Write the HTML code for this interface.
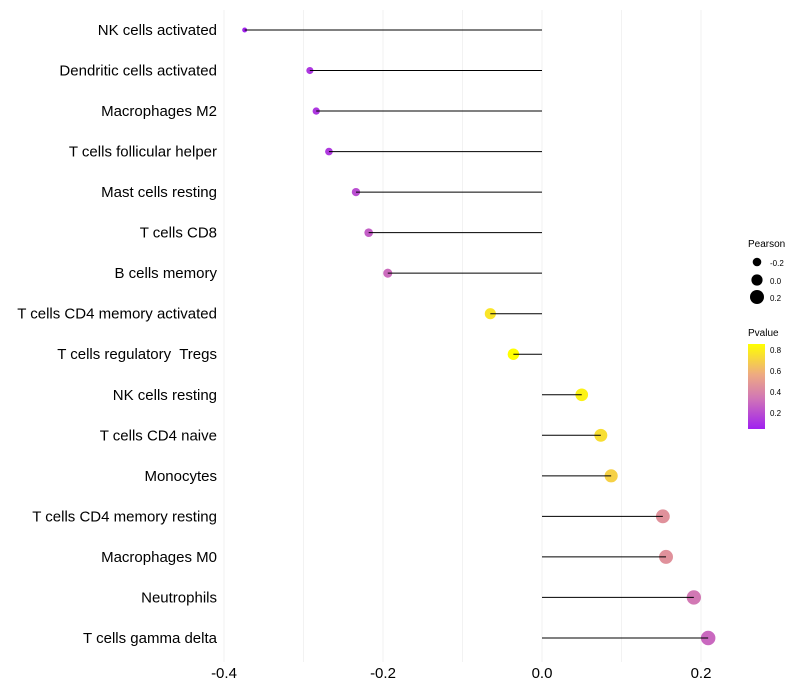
<!DOCTYPE html>
<html><head><meta charset="utf-8"><style>
body{margin:0;background:#fff;}
svg{display:block;font-family:"Liberation Sans",Arial,sans-serif;}
text{white-space:pre;}
</style></head><body>
<svg id="chart" width="800" height="700">
<defs><linearGradient id="pgrad" x1="0" y1="1" x2="0" y2="0">
<stop offset="0" stop-color="#a020f0"/><stop offset="0.37" stop-color="#d278b4"/>
<stop offset="0.64" stop-color="#eeaa82"/><stop offset="1" stop-color="#ffff00"/></linearGradient></defs>
<g id="grid"></g>
<g id="labels"></g>
<g id="marks"></g>
<g id="xticks"></g>
<g>
<text x="748" y="247" font-size="10">Pearson</text>
<circle cx="757" cy="262" r="4.3" fill="#000"/>
<text x="770" y="266" font-size="8">-0.2</text>
<circle cx="757" cy="280" r="5.6" fill="#000"/>
<text x="770" y="284" font-size="8">0.0</text>
<circle cx="757" cy="297" r="7" fill="#000"/>
<text x="770" y="301" font-size="8">0.2</text>
</g>
<g>
<text x="748" y="336" font-size="10">Pvalue</text>
<rect x="748" y="344" width="17" height="85" fill="url(#pgrad)"/>
<text x="770" y="353" font-size="8">0.8</text>
<text x="770" y="374" font-size="8">0.6</text>
<text x="770" y="395" font-size="8">0.4</text>
<text x="770" y="416" font-size="8">0.2</text>
</g>
</svg>
<script>
const categories=["NK cells activated","Dendritic cells activated","Macrophages M2","T cells follicular helper","Mast cells resting","T cells CD8","B cells memory","T cells CD4 memory activated","T cells regulatory  Tregs","NK cells resting","T cells CD4 naive","Monocytes","T cells CD4 memory resting","Macrophages M0","Neutrophils","T cells gamma delta"];
const pearson=[-0.374,-0.292,-0.284,-0.268,-0.234,-0.218,-0.194,-0.065,-0.036,0.050,0.074,0.087,0.152,0.156,0.191,0.209];
const pvalues=[0.14,0.2,0.2,0.21,0.27,0.32,0.36,0.78,0.86,0.82,0.76,0.72,0.5,0.5,0.4,0.35];
const xTicks=[-0.4,-0.2,0.0,0.2];
const xMinor=[-0.3,-0.1,0.1];
const NS="http://www.w3.org/2000/svg";
const xs=v=>542+v*795;
const ys=i=>30+i*40.53;
const rs=v=>Math.sqrt(Math.max(2.2,36+80*v));
function col(p){
  const st=[[0.13,[160,32,240]],[0.4,[210,120,180]],[0.6,[238,170,130]],[0.86,[255,255,0]]];
  if(p<=st[0][0])return 'rgb('+st[0][1]+')';
  for(let k=1;k<st.length;k++){if(p<=st[k][0]){const t=(p-st[k-1][0])/(st[k][0]-st[k-1][0]);
    return 'rgb('+st[k][1].map((c,j)=>Math.round(st[k-1][1][j]+t*(c-st[k-1][1][j]))).join(',')+')';}}
  return 'rgb(255,255,0)';
}
function mk(tag,attrs,parent){const e=document.createElementNS(NS,tag);for(const k in attrs)e.setAttribute(k,attrs[k]);parent.appendChild(e);return e;}
const grid=document.getElementById('grid'),lab=document.getElementById('labels'),marks=document.getElementById('marks'),xt=document.getElementById('xticks');
xTicks.concat(xMinor).forEach(v=>{
  const l=mk('line',{x1:xs(v),x2:xs(v),y1:10,y2:662,stroke:'#f2f2f2','stroke-width':1},grid);
  
  
});
xTicks.forEach(v=>{
  const t=mk('text',{x:xs(v),y:678,'font-size':15,'text-anchor':'middle',fill:'#000'},xt);
  t.textContent=v.toFixed(1);
  
  
});
categories.forEach((c,i)=>{
  const t=mk('text',{x:217,y:ys(i)+5,'font-size':15,'text-anchor':'end',fill:'#000'},lab);
  t.textContent=c;
  
  
  const ci=mk('circle',{cx:xs(pearson[i]),cy:ys(i),r:rs(pearson[i]),fill:col(pvalues[i])},marks);
  
  
  const ln=mk('line',{x1:xs(0),x2:xs(pearson[i]),y1:ys(i),y2:ys(i),stroke:'#000','stroke-width':1},marks);
  
  
});
</script>
</body></html>
